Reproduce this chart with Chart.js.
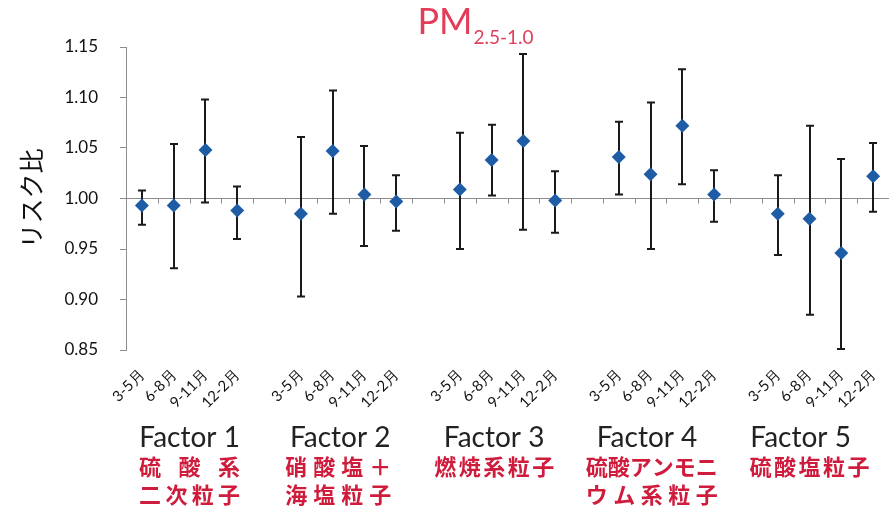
<!DOCTYPE html>
<html>
<head>
<meta charset="utf-8">
<script src="https://cdn.jsdelivr.net/npm/chart.js@4/dist/chart.umd.min.js"></script>
<style>
  html, body { margin: 0; padding: 0; background: #fff; overflow: hidden; }
  #wrap { width: 896px; height: 508px; }
</style>
</head>
<body>
<div id="wrap"><canvas id="c" width="896" height="508"></canvas></div>
<script>
// Seasonal risk ratios (with 95% CI) for each PM2.5-1.0 source factor
const seasons = ['3-5月', '6-8月', '9-11月', '12-2月'];
const factorNames = ['Factor 1', 'Factor 2', 'Factor 3', 'Factor 4', 'Factor 5'];
const factorSources = [
  ['硫 酸 系', '二次粒子'],
  ['硝酸塩＋', '海塩粒子'],
  ['燃焼系粒子'],
  ['硫酸アンモニ', 'ウム系粒子'],
  ['硫酸塩粒子']
];
const riskRatio = [0.993, 0.993, 1.048, 0.988,  0.985, 1.047, 1.004, 0.997,
                   1.009, 1.038, 1.057, 0.998,  1.041, 1.024, 1.072, 1.004,
                   0.985, 0.980, 0.946, 1.022];
const ciLower   = [0.974, 0.931, 0.996, 0.960,  0.903, 0.985, 0.953, 0.968,
                   0.950, 1.003, 0.969, 0.966,  1.004, 0.950, 1.014, 0.977,
                   0.944, 0.885, 0.851, 0.987];
const ciUpper   = [1.008, 1.054, 1.098, 1.012,  1.061, 1.107, 1.052, 1.023,
                   1.065, 1.073, 1.143, 1.027,  1.076, 1.095, 1.128, 1.028,
                   1.023, 1.072, 1.039, 1.055];
const riskTicks = [0.85, 0.90, 0.95, 1.00, 1.05, 1.10, 1.15];

// Layout of the text blocks under each group (category units / pixels)
const factorLabelAt = [1.5, 6.24, 11.08, 15.89, 20.72];
const sourceLabelAt = [1.5, 6.18, 11.08, 16.04, 21.0];
const sourceWidth   = [101, 106, 120, 132, 120];

const LATIN = 'Lato, "Noto Sans", sans-serif';
const CJK = '"Noto Sans CJK JP", sans-serif';
const RED = '#d01c3c';

// One blank slot between factor groups
const labels = [];
const estData = [], loData = [], hiData = [];
factorNames.forEach((f, g) => {
  if (g > 0) { labels.push(''); estData.push(null); loData.push(null); hiData.push(null); }
  seasons.forEach((s, i) => {
    const k = g * seasons.length + i;
    labels.push(s);
    estData.push(riskRatio[k]);
    loData.push(ciLower[k]);
    hiData.push(ciUpper[k]);
  });
});

// Reference line at 1.00 with category tick marks, then the CI whiskers
const errorBars = {
  id: 'errorBars',
  beforeDatasetsDraw(chart) {
    const { ctx, chartArea: a, scales: { x, y } } = chart;
    const y1 = Math.round(y.getPixelForValue(1.0)) + 0.5;
    ctx.save();
    ctx.strokeStyle = '#8c8c8c';
    ctx.lineWidth = 1;
    ctx.beginPath();
    ctx.moveTo(a.left, y1);
    ctx.lineTo(a.right, y1);
    for (let k = 1; k < labels.length; k++) {
      const px = Math.round(x.getPixelForValue(k - 0.5)) + 0.5;
      ctx.moveTo(px, y1);
      ctx.lineTo(px, y1 + 5);
    }
    ctx.stroke();

    ctx.strokeStyle = '#1a1a1a';
    ctx.lineWidth = 2;
    ctx.beginPath();
    labels.forEach((l, k) => {
      if (estData[k] === null) return;
      const px = Math.round(x.getPixelForValue(k));
      const yl = y.getPixelForValue(loData[k]);
      const yh = y.getPixelForValue(hiData[k]);
      ctx.moveTo(px, yl); ctx.lineTo(px, yh);
      ctx.moveTo(px - 4, yl); ctx.lineTo(px + 4, yl);
      ctx.moveTo(px - 4, yh); ctx.lineTo(px + 4, yh);
    });
    ctx.stroke();
    ctx.restore();
  }
};

// Title with subscript, factor names and source descriptions
const annotations = {
  id: 'annotations',
  afterDraw(chart) {
    const { ctx, scales: { x } } = chart;
    ctx.save();
    ctx.fillStyle = '#e23d5a';
    ctx.textBaseline = 'alphabetic';
    ctx.textAlign = 'left';
    ctx.font = '36px ' + LATIN;
    const wMain = ctx.measureText('PM').width;
    ctx.font = '19px ' + LATIN;
    const wSub = ctx.measureText('2.5-1.0').width;
    const x0 = 475 - (wMain + wSub) / 2;
    ctx.font = '36px ' + LATIN;
    ctx.fillText('PM', x0, 34);
    ctx.font = '19px ' + LATIN;
    ctx.fillText('2.5-1.0', x0 + wMain + 1, 44);

    ctx.fillStyle = '#222';
    ctx.textAlign = 'center';
    ctx.font = '28px ' + LATIN;
    factorNames.forEach((name, g) => {
      ctx.fillText(name, x.getPixelForValue(factorLabelAt[g]), 447);
    });

    ctx.fillStyle = RED;
    ctx.font = 'bold 22px ' + CJK;
    ctx.textBaseline = 'middle';
    const lineY = [467, 495];
    factorSources.forEach((lines, g) => {
      const cx = x.getPixelForValue(sourceLabelAt[g]);
      const w = sourceWidth[g];
      const left = cx - w / 2;
      lines.forEach((line, li) => {
        const chars = [...line].filter(c => c !== ' ');
        const cw = 22;
        const pitch = chars.length > 1 ? (w - cw) / (chars.length - 1) : 0;
        chars.forEach((c, i) => {
          ctx.fillText(c, left + cw / 2 + i * pitch, lineY[li]);
        });
      });
    });
    ctx.restore();
  }
};

new Chart(document.getElementById('c'), {
  type: 'line',
  data: {
    labels: labels,
    datasets: [{
      label: 'リスク比',
      data: estData,
      showLine: false,
      pointStyle: 'rectRot',
      pointRadius: 7,
      pointHoverRadius: 7,
      backgroundColor: '#1f5ca6',
      borderColor: '#1f5ca6',
      pointBorderWidth: 0
    }]
  },
  options: {
    responsive: false,
    devicePixelRatio: 1,
    animation: false,
    events: [],
    layout: { padding: { top: 47, right: 1, left: 0, bottom: 0 } },
    plugins: { legend: { display: false }, tooltip: { enabled: false } },
    scales: {
      x: {
        offset: true,
        grid: { display: false },
        border: { display: false },
        ticks: {
          autoSkip: false,
          maxRotation: 45,
          minRotation: 45,
          padding: 8,
          color: '#111',
          font: { size: 15, family: LATIN }
        },
        afterFit(scale) { scale.height = 158; }
      },
      y: {
        min: 0.85,
        max: 1.15,
        afterBuildTicks(scale) { scale.ticks = riskTicks.map(v => ({ value: v })); },
        grid: { drawOnChartArea: false, tickLength: 6, color: '#8c8c8c' },
        border: { display: true, color: '#8c8c8c' },
        ticks: {
          padding: 22,
          color: '#111',
          font: { size: 17, family: LATIN },
          callback: v => Number(v).toFixed(2)
        },
        title: {
          display: true,
          text: 'リスク比',
          color: '#111',
          font: { size: 25, family: CJK },
          padding: { top: 16, bottom: 0 }
        },
        afterFit(scale) { scale.width = 126; }
      }
    }
  },
  plugins: [errorBars, annotations]
});
</script>
</body>
</html>
